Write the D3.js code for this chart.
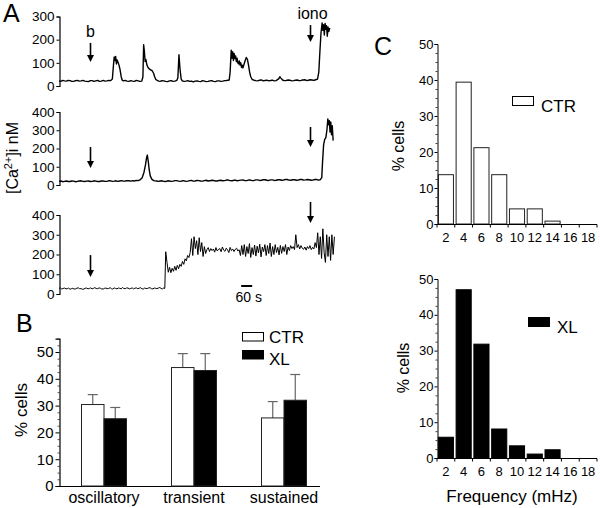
<!DOCTYPE html>
<html><head><meta charset="utf-8">
<script src="https://cdn.jsdelivr.net/npm/d3@7"></script>
<style>
body{margin:0;background:#fff}
svg{display:block;background:#fff}
text{font-family:"Liberation Sans",Arial,sans-serif;fill:#000}
</style>
</head><body>
<svg id="chart" width="600" height="508"></svg>
<script>
// ---------------- DATA ----------------
// Panel A: [Ca2+]i traces, [time (s), nM]
const trace1 = [[0,22],[10,20],[20,24],[30,22],[40,21],[50,24],[60,23],[70,20],[80,20],[90,23],[100,24],[110,21],[120,22],[130,24],[140,21],[150,20],[160,19],[170,23],[180,23],[190,20],[200,22],[210,24],[220,20],[230,21],[240,24],[250,21],[260,22],[270,24],[280,23],
 [290,30],[296,90],[300,125],[304,110],[308,128],[312,95],[316,112],[320,105],[326,90],[332,70],[338,40],[344,25],[350,22],
 [360,24],[370,21],[380,20],[390,23],[400,21],[410,20],[420,24],[430,22],[440,20],[450,21],
 [456,40],[460,178],[464,150],[468,106],[472,115],[478,90],[484,80],[490,74],[498,70],[506,66],[514,55],[520,40],[526,28],[534,24],[542,21],[550,20],[560,23],[570,22],[580,20],[590,19],[600,22],[610,23],[620,20],[630,21],[640,24],
 [646,35],[652,135],[658,70],[664,30],[670,22],[680,20],[690,21],[700,23],[710,20],[720,21],[730,18],[740,21],[750,22],[760,20],[770,19],[780,23],[790,21],[800,19],[810,20],[820,22],[830,23],[840,20],[850,19],[860,22],[870,22],[880,20],[890,21],[900,23],[910,24],[925,26],
 [930,60],[936,154],[940,120],[944,148],[948,110],[952,140],[956,118],[960,130],[964,105],[968,120],[972,100],[976,95],[980,108],[984,90],[988,100],[992,80],[996,90],[1000,78],[1006,95],[1012,110],[1018,123],[1024,115],[1030,90],[1036,60],[1042,40],[1050,28],[1060,25],
 [1070,23],[1080,22],[1090,25],[1100,26],[1110,22],[1120,24],[1130,25],[1140,22],[1150,24],[1160,25],[1170,22],[1180,23],[1195,32],[1200,40],[1206,34],[1215,26],[1225,23],[1235,24],[1245,26],[1255,25],[1265,22],[1275,23],[1285,25],[1295,26],[1305,23],[1315,24],[1325,26],[1335,27],[1345,24],[1355,25],[1365,27],[1375,26],[1385,24],[1395,27],[1405,30],
 [1412,60],[1418,150],[1424,230],[1430,272],[1434,240],[1438,265],[1442,220],[1446,270],[1450,245],[1454,260],[1458,215],[1462,255],[1466,235],[1472,250]];

const trace2 = [[0,20],[10,22],[20,18],[30,20],[40,22],[50,19],[60,19],[70,22],[80,21],[90,18],[100,20],[110,22],[120,23],[130,20],[140,19],[150,21],[160,22],[170,19],[180,20],[190,23],[200,21],[210,19],[220,19],[230,22],[240,22],[250,20],[260,20],[270,23],[280,23],[290,20],[300,21],[310,23],[320,20],[330,22],[340,24],[350,21],[360,22],[370,24],[380,23],[390,21],[400,24],[410,22],[420,25],[430,24],[440,28],
 [452,40],[462,70],[470,110],[476,150],[480,164],[485,130],[490,85],[496,50],[504,32],[515,24],
 [530,22],[540,20],[550,22],[560,23],[570,20],[580,19],[590,23],[600,22],[610,20],[620,21],[630,24],[640,24],[650,21],[660,20],[670,23],[680,23],[690,20],[700,21],[710,24],[720,25],[730,21],[740,22],[750,25],[760,24],[770,22],[780,21],[790,24],[800,26],[810,22],[820,23],[830,26],[840,25],[850,22],[860,22],[870,25],[880,26],[890,23],[900,24],[910,27],[920,27],[930,24],[940,23],[950,26],[960,26],[970,23],[980,25],[990,27],[1000,28],[1010,24],[1020,24],[1030,27],[1040,27],[1050,24],[1060,25],[1070,28],[1080,28],[1090,25],[1100,26],[1110,29],[1120,29],[1130,26],[1140,25],[1150,28],[1160,28],[1170,25],[1180,26],[1190,29],[1200,29],[1210,26],[1220,27],[1230,30],[1240,30],[1250,27],[1260,26],[1270,29],[1280,29],[1290,26],[1300,27],[1310,30],[1320,30],[1330,27],[1340,28],[1350,30],[1360,29],[1370,26],[1380,27],[1390,30],[1400,30],[1410,27],[1420,29],
 [1428,40],[1432,120],[1438,220],[1444,250],[1450,258],[1456,300],[1461,362],[1465,330],[1469,352],[1473,290],[1477,345],[1481,275],[1485,325],[1490,243]];

const trace3Base = [[0,28],[8,31],[15,25],[22,28],[30,30],[38,26],[45,27],[52,30],[60,24],[68,27],[75,29],[82,25],[90,26],[98,30],[105,31],[112,27],[120,27],[128,24],[135,25],[142,29],[150,30],[158,26],[165,28],[172,31],[180,26],[188,29],[195,32],[202,28],[210,27],[218,31],[225,29],[232,26],[240,25],[248,29],[255,30],[262,27],[270,28],[278,32],[285,27],[292,25],[300,31],[308,28],[315,26],[322,30],[330,29],[338,26],[345,33],[352,28],[360,27],[368,31],[375,30],[382,26],[390,28],[398,31],[405,26],[412,29],[420,31],[428,27],[435,29],[442,32],[450,27],[458,25],[465,30],[472,28],[480,28],[488,31],[495,32],[502,27],[510,26],[518,30],[525,29],[532,27],[540,30],[548,33],[555,28],[562,26],[570,31],[575,28]];
const trace3SampleStart = 580;   // s
const trace3SampleStep = 7;      // s
const trace3Samples = [214,160,110,135,108,130,115,140,120,145,128,150,140,165,150,178,168,195,185,
 210,280,195,290,230,270,200,285,215,260,190,240,205,
 225,235,215,230,220,228,212,235,218,226,230,214,238,222,216,232,224,210,236,220,228,215,226,232,218,224,
 195,245,200,250,190,240,205,255,185,235,200,248,192,242,208,252,188,238,215,250,195,245,205,258,190,240,200,250,210,236,198,246,206,240,215,250,200,238,220,245,
 230,240,225,300,235,250,228,245,232,226,238,222,240,230,245,225,236,228,260,235,
 310,200,290,180,330,210,160,300,190,290,170,300,200,290];

const traceTicks1 = [0,100,200,300];
const traceTicks23 = [0,100,200,300,400];
const traceMax = [300,400,400];
// arrows: trace index, time (s), arrow top (nM), arrow tip (nM), label
const arrowTrace = [0,0,1,1,2,2];
const arrowTime = [170,1364,170,1364,170,1364];
const arrowTop = [186,263,208,318,197,466];
const arrowTip = [104,190,93,208,86,359];
const arrowLabel = ["b","iono","","","",""];
const scaleBarSeconds = [990,1050];

// Panel B
const categoriesB = ["oscillatory","transient","sustained"];
const seriesB = ["CTR","XL"];
const ctrB = [30.4,44.2,25.4];
const ctrSemB = [3.7,5.2,6.1];
const xlB = [25.1,43.1,32.0];
const xlSemB = [4.2,6.3,9.6];
const ticksB = [0,10,20,30,40,50];

// Panel C
const freqBins = ["2","4","6","8","10","12","14","16","18"];
const ctrFreq = [13.7,39.4,21.2,13.7,4.2,4.2,0.8,0,0];
const xlFreq = [5.8,47.0,31.8,8.1,3.4,1.1,2.3,0,0];
const ticksC = [0,10,20,30,40,50];

// ---------------- DRAW ----------------
const svg = d3.select("#chart");
const FONT = '"Liberation Sans",Arial,sans-serif';

// Panel letters
[["A",3,22],["B",16,332],["C",374,55]].forEach(([t,x,y])=>{
  svg.append("text").attr("x",x).attr("y",y).attr("font-size",25).text(t);
});

// ---- Panel A ----
const xT = d3.scaleLinear().domain([0,1500]).range([59,335]);
const yRanges = [[86,16.5],[185,112],[294,215]];
const yT = yRanges.map((r,i)=>d3.scaleLinear().domain([0,traceMax[i]]).range(r));

const trace3 = trace3Base.concat(trace3Samples.map((v,i)=>[trace3SampleStart+i*trace3SampleStep, v]));
const traces = [trace1, trace2, trace3];
const widths = [1.4,1.4,1];

traces.forEach((tr,i)=>{
  const g = svg.append("g");
  const ax = g.append("g").attr("transform","translate(59.5,0)")
    .call(d3.axisLeft(yT[i]).tickValues(i===0?traceTicks1:traceTicks23).tickSize(3).tickPadding(2).tickFormat(d3.format("d")));
  ax.select(".domain").attr("stroke","#000").attr("stroke-width",1.2);
  ax.selectAll(".tick line").attr("stroke","#000");
  ax.selectAll("text").attr("font-size",13.5).attr("font-family",FONT);
  g.append("path").datum(tr)
    .attr("fill","none").attr("stroke","#000").attr("stroke-width",widths[i]).attr("stroke-linejoin","round")
    .attr("d", d3.line().x(d=>xT(d[0])).y(d=>yT[i](d[1])));
});

// arrows
arrowTime.forEach((t,k)=>{
  const ys = yT[arrowTrace[k]];
  const x = Math.round(xT(t))+0.5;
  const y0 = ys(arrowTop[k]), y1 = ys(arrowTip[k]);
  svg.append("line").attr("x1",x).attr("x2",x).attr("y1",y0).attr("y2",y1-6)
    .attr("stroke","#000").attr("stroke-width",1.6);
  svg.append("path").attr("d",`M${x-3.5},${y1-7}L${x+3.5},${y1-7}L${x},${y1}Z`).attr("fill","#000");
  if(arrowLabel[k]){
    svg.append("text").attr("x",x+(arrowLabel[k]==="iono"?2:0)).attr("y",y0-6)
      .attr("text-anchor","middle").attr("font-size",16).text(arrowLabel[k]);
  }
});

// scale bar
svg.append("line").attr("x1",xT(scaleBarSeconds[0])).attr("x2",xT(scaleBarSeconds[1]))
  .attr("y1",286).attr("y2",286).attr("stroke","#000").attr("stroke-width",2);
svg.append("text").attr("x",(xT(scaleBarSeconds[0])+xT(scaleBarSeconds[1]))/2+2).attr("y",302)
  .attr("text-anchor","middle").attr("font-size",14).text((scaleBarSeconds[1]-scaleBarSeconds[0])+" s");

// y label
const caLab = svg.append("text").attr("transform","translate(18,158) rotate(-90)")
  .attr("text-anchor","middle").attr("font-size",16);
caLab.append("tspan").text("[Ca");
caLab.append("tspan").attr("font-size",11).attr("dy",-6).text("2+");
caLab.append("tspan").attr("dy",6).text("]i nM");

// ---- Panel B ----
const yB = d3.scaleLinear().domain([0,55]).range([486,338.6]);
const xB = d3.scaleBand().domain(categoriesB).range([59,329]).paddingInner(0.5).paddingOuter(0.25);
const xSub = d3.scaleBand().domain(seriesB).range([0,xB.bandwidth()]);
const gB = svg.append("g");
const minorB = d3.range(0,55.01,2.5).filter(v=>v%10!==0);
const axBm = gB.append("g").attr("transform","translate(59.5,0)")
  .call(d3.axisLeft(yB).tickValues(minorB).tickSize(2).tickFormat(""));
axBm.select(".domain").remove();
axBm.selectAll(".tick line").attr("stroke","#555");
const axB = gB.append("g").attr("transform","translate(59.5,0)")
  .call(d3.axisLeft(yB).tickValues(ticksB).tickSize(4).tickPadding(2));
axB.select(".domain").attr("stroke","#000").attr("stroke-width",1.2);
axB.selectAll(".tick line").attr("stroke","#000");
axB.selectAll("text").attr("font-size",15).attr("font-family",FONT);
gB.append("line").attr("x1",59).attr("x2",320).attr("y1",486.5).attr("y2",486.5).attr("stroke","#000").attr("stroke-width",1.2);

const rowsB = categoriesB.map((c,i)=>[
  {cat:c, s:"CTR", v:ctrB[i], e:ctrSemB[i]},
  {cat:c, s:"XL", v:xlB[i], e:xlSemB[i]}]).flat();
// error bars
rowsB.forEach(d=>{
  const cx = xB(d.cat)+xSub(d.s)+xSub.bandwidth()/2;
  gB.append("line").attr("x1",cx).attr("x2",cx).attr("y1",yB(d.v)).attr("y2",yB(d.v+d.e)).attr("stroke","#666").attr("stroke-width",1.2);
  gB.append("line").attr("x1",cx-5).attr("x2",cx+5).attr("y1",yB(d.v+d.e)).attr("y2",yB(d.v+d.e)).attr("stroke","#666").attr("stroke-width",1.2);
});
gB.selectAll("rect.bar").data(rowsB).join("rect").attr("class","bar")
  .attr("x",d=>xB(d.cat)+xSub(d.s)).attr("width",xSub.bandwidth())
  .attr("y",d=>yB(d.v)).attr("height",d=>yB(0)-yB(d.v))
  .attr("fill",d=>d.s==="CTR"?"#fff":"#000").attr("stroke","#222").attr("stroke-width",1);
categoriesB.forEach(c=>{
  gB.append("text").attr("x",xB(c)+xB.bandwidth()/2).attr("y",503).attr("text-anchor","middle").attr("font-size",16).text(c);
});
gB.append("text").attr("transform","translate(27,410) rotate(-90)").attr("text-anchor","middle").attr("font-size",17).text("% cells");
// legend B
seriesB.forEach((s,i)=>{
  gB.append("rect").attr("x",242.5).attr("y",332.5+i*18).attr("width",21).attr("height",8.5)
    .attr("fill",s==="CTR"?"#fff":"#000").attr("stroke","#000");
  gB.append("text").attr("x",269).attr("y",343+i*22).attr("font-size",17).text(s);
});

// ---- Panel C ----
function histPanel(vals, yRange, name, fill, legX, legY, labelY, labelX){
  const y = d3.scaleLinear().domain([0,50]).range(yRange);
  const x = d3.scaleBand().domain(freqBins).range([437,597]).paddingInner(0.15).paddingOuter(0.075);
  const g = svg.append("g");
  g.selectAll("rect").data(vals).join("rect")
    .attr("x",(d,i)=>x(freqBins[i])).attr("width",x.bandwidth())
    .attr("y",d=>y(d)).attr("height",d=>y(0)-y(d))
    .attr("fill",fill).attr("stroke", fill==="#000"?"#000":"#222").attr("stroke-width",1)
    .attr("display",d=>d>0?null:"none");
  const minor = d3.range(0,50.01,2.5).filter(v=>v%10!==0);
  const am = g.append("g").attr("transform","translate(437.5,0)")
    .call(d3.axisLeft(y).tickValues(minor).tickSize(2).tickFormat(""));
  am.select(".domain").remove();
  am.selectAll(".tick line").attr("stroke","#444");
  const a = g.append("g").attr("transform","translate(437.5,0)")
    .call(d3.axisLeft(y).tickValues(ticksC).tickSize(3).tickPadding(1));
  a.select(".domain").attr("stroke","#000");
  a.selectAll(".tick line").attr("stroke","#000");
  a.selectAll("text").attr("font-size",13).attr("font-family",FONT);
  const y0 = Math.round(y(0))+0.5;
  g.append("line").attr("x1",437).attr("x2",597).attr("y1",y0).attr("y2",y0).attr("stroke","#000");
  const bounds = freqBins.map(b=>x(b)-x.step()*x.paddingInner()/2).concat([597]);
  bounds.forEach(bx=>g.append("line").attr("x1",bx).attr("x2",bx).attr("y1",y0).attr("y2",y0+3).attr("stroke","#000"));
  freqBins.forEach(b=>g.append("text").attr("x",x(b)+x.bandwidth()/2).attr("y",y0+17)
    .attr("text-anchor","middle").attr("font-size",13).text(b));
  g.append("text").attr("transform",`translate(${labelX},${labelY}) rotate(-90)`).attr("text-anchor","middle").attr("font-size",16).text("% cells");
  g.append("rect").attr("x",legX+0.5).attr("y",legY+0.5).attr("width",21).attr("height",9)
    .attr("fill",fill).attr("stroke","#000");
  g.append("text").attr("x",legX+29).attr("y",legY+16).attr("font-size",17).text(name);
  return y0;
}
histPanel(ctrFreq,[224,44],"CTR","#fff",512,96,146,404);
const yb = histPanel(xlFreq,[458,279],"XL","#000",528,317,368,409);
svg.append("text").attr("x",512).attr("y",yb+43).attr("text-anchor","middle").attr("font-size",17).text("Frequency (mHz)");
</script>
</body></html>
